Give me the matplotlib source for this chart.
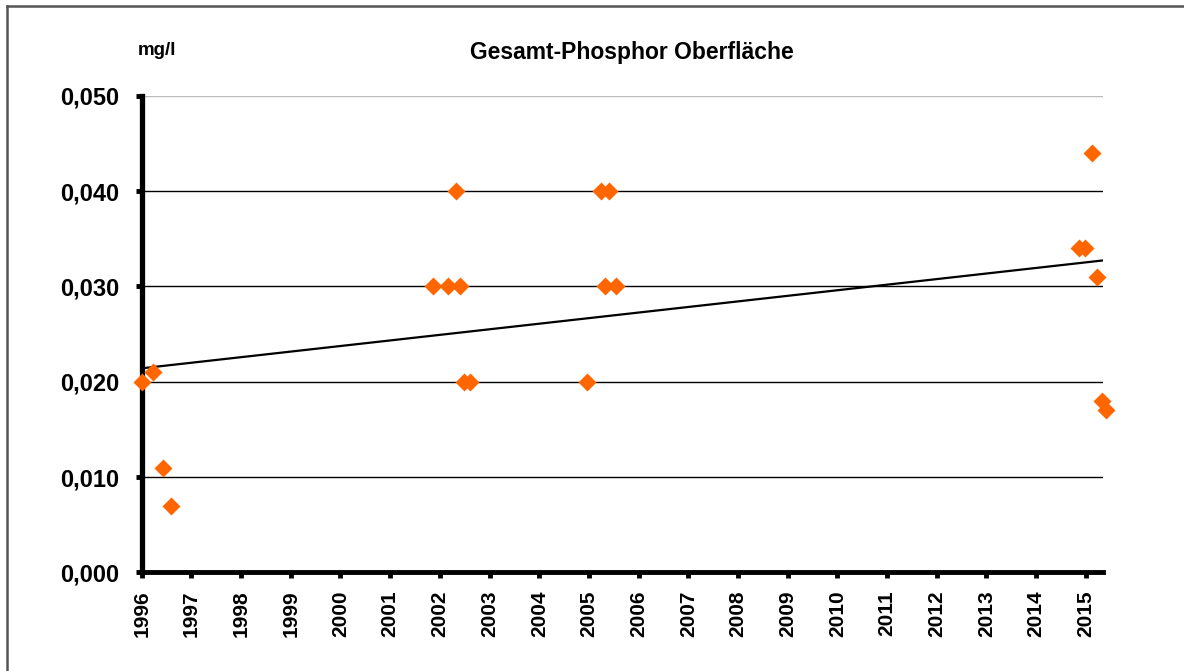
import numpy as np
import matplotlib.pyplot as plt
from matplotlib.lines import Line2D

# sampling dates (decimal years) and total phosphorus at surface, mg/l
years = [1996.00, 1996.23, 1996.43, 1996.58,
         2001.87, 2002.17, 2002.32, 2002.40, 2002.49, 2002.60,
         2004.97, 2005.25, 2005.32, 2005.41, 2005.54,
         2014.87, 2014.98, 2015.13, 2015.23, 2015.32, 2015.40]
phosphor = [0.020, 0.021, 0.011, 0.007,
            0.030, 0.030, 0.040, 0.030, 0.020, 0.020,
            0.020, 0.040, 0.030, 0.040, 0.030,
            0.034, 0.034, 0.044, 0.031, 0.018, 0.017]
tick_years = list(range(1996, 2016))
y_ticks = [0.0, 0.01, 0.02, 0.03, 0.04, 0.05]

plt.rcParams['font.family'] = ['Liberation Sans', 'DejaVu Sans']
plt.rcParams['font.weight'] = 'bold'

fig = plt.figure(figsize=(11.84, 6.71), dpi=100)
ax = fig.add_axes([0.1197, 0.1471, 0.8121, 0.7099])

xmin, xmax = 1996.0, 2015.35
ax.set_xlim(xmin, xmax)
ax.set_ylim(0, 0.05)

# linear trend
k, d = np.polyfit(years, phosphor, 1)
tx = np.array([xmin, xmax])
ax.plot(tx, k * tx + d, color='black', lw=1.6, zorder=3)

ax.plot(years, phosphor, 'D', color='#FF6600', ms=9.5, mec='none', zorder=4, clip_on=False)

ax.set_yticks(y_ticks)
ax.set_yticklabels([f"{v:.3f}".replace('.', ',') for v in y_ticks], fontsize=17, fontweight='bold')
ax.set_xticks(tick_years)
ax.set_xticklabels([str(t) for t in tick_years], rotation=90, fontsize=15, fontweight='bold')

ax.yaxis.grid(True, color='black', lw=1.0)
ax.get_ygridlines()[-1].set_color('#bbbbbb')
ax.set_axisbelow(True)

for s in ['top', 'right']:
    ax.spines[s].set_visible(False)
ax.spines['left'].set_linewidth(3.8)
ax.spines['bottom'].set_linewidth(3.5)
ax.tick_params(axis='both', direction='out', length=4, width=3.5, color='black')
ax.tick_params(axis='y', pad=12)
ax.tick_params(axis='x', pad=9)

fig.text(0.534, 0.922, 'Gesamt-Phosphor Oberfläche', ha='center', va='center',
         fontsize=16.5, fontweight='bold')
fig.text(0.1326, 0.925, 'mg/l', ha='center', va='center', fontsize=13.5, fontweight='bold')

# outer frame (top and left edges visible)
fig.add_artist(Line2D([7 / 1184, 1.0], [1 - 5.5 / 671] * 2, transform=fig.transFigure,
                      color='#555555', lw=1.8))
fig.add_artist(Line2D([7 / 1184] * 2, [0.0, 1 - 5.5 / 671], transform=fig.transFigure,
                      color='#555555', lw=1.8))

fig.savefig('out.png', dpi=100)
